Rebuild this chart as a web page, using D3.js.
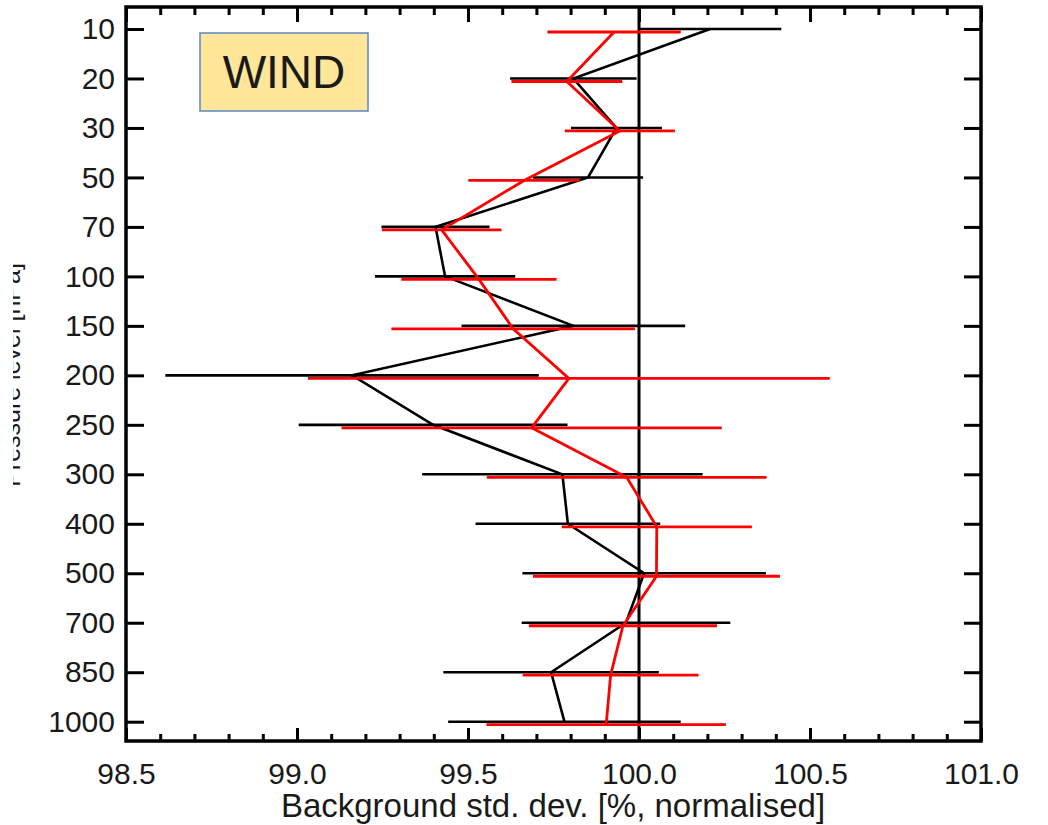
<!DOCTYPE html>
<html>
<head>
<meta charset="utf-8">
<script src="https://cdn.jsdelivr.net/npm/d3@7"></script>
<style>
  html, body { margin: 0; padding: 0; background: #ffffff; }
  svg { display: block; }
  text { font-family: "Liberation Sans", Arial, Helvetica, sans-serif; fill: #1a1a1a; }
</style>
</head>
<body>
<svg id="chart" width="1048" height="825"></svg>
<script>
// ---- data ----
const levels = [10, 20, 30, 50, 70, 100, 150, 200, 250, 300, 400, 500, 700, 850, 1000];
const levelLabels = ["10", "20", "30", "50", "70", "100", "150", "200", "250", "300", "400", "500", "700", "850", "1000"];
const blackMean = [100.208, 99.808, 99.934, 99.851, 99.405, 99.433, 99.808, 99.161, 99.398, 99.776, 99.792, 100.015, 99.962, 99.743, 99.782];
const blackErr  = [0.208, 0.185, 0.133, 0.161, 0.158, 0.205, 0.327, 0.546, 0.393, 0.410, 0.270, 0.356, 0.305, 0.315, 0.340];
const redMean   = [99.927, 99.789, 99.944, 99.664, 99.423, 99.532, 99.632, 99.795, 99.686, 99.964, 100.052, 100.051, 99.953, 99.917, 99.904];
const redErr    = [0.195, 0.162, 0.161, 0.163, 0.175, 0.227, 0.356, 0.763, 0.556, 0.409, 0.278, 0.361, 0.275, 0.257, 0.350];
const xMajorTicks = [98.5, 99.0, 99.5, 100.0, 100.5, 101.0];
const xMinorTicks = [98.6, 98.7, 98.8, 98.9, 99.1, 99.2, 99.3, 99.4, 99.6, 99.7, 99.8, 99.9,
                     100.1, 100.2, 100.3, 100.4, 100.6, 100.7, 100.8, 100.9];
const xDomain = [98.5, 101.0];
const refValue = 100.0;
const xTitle = "Background std. dev. [%, normalised]";
const yTitle = "Pressure level [hPa]";
const boxLabel = "WIND";

// ---- layout ----
const L = 126, R = 981, T = 7, B = 741;
const svg = d3.select("#chart");
svg.append("rect").attr("width", 1048).attr("height", 825).attr("fill", "#fff");

const x = d3.scaleLinear().domain(xDomain).range([L, R]);
const y = d3.scalePoint().domain(levels).range([29, 721.7]);

// reference vertical line
svg.append("line")
  .attr("x1", x(refValue)).attr("x2", x(refValue))
  .attr("y1", T).attr("y2", B)
  .attr("stroke", "#000").attr("stroke-width", 3);

// axes
function styleAxis(g, width) {
  g.select(".domain").remove();
  g.selectAll(".tick line").attr("stroke", "#000").attr("stroke-width", width);
}
svg.append("g").attr("transform", `translate(${L},0)`)
  .call(d3.axisLeft(y).tickSizeInner(-18).tickSizeOuter(0).tickPadding(11)
        .tickFormat((d, i) => levelLabels[i]))
  .call(g => { styleAxis(g, 3); g.selectAll("text").attr("font-size", 30).attr("fill", "#1a1a1a"); });
svg.append("g").attr("transform", `translate(${R},0)`)
  .call(d3.axisRight(y).tickSizeInner(-17).tickSizeOuter(0).tickFormat(""))
  .call(g => styleAxis(g, 3));
svg.append("g").attr("transform", `translate(0,${B})`)
  .call(d3.axisBottom(x).tickValues(xMinorTicks).tickSizeInner(-7).tickSizeOuter(0).tickFormat(""))
  .call(g => styleAxis(g, 3));
svg.append("g").attr("transform", `translate(0,${B})`)
  .call(d3.axisBottom(x).tickValues(xMajorTicks).tickSizeInner(-13).tickSizeOuter(0).tickPadding(22)
        .tickFormat(d3.format(".1f")))
  .call(g => { styleAxis(g, 3); g.selectAll("text").attr("font-size", 30).attr("fill", "#1a1a1a"); });
svg.append("g").attr("transform", `translate(0,${T})`)
  .call(d3.axisTop(x).tickValues(xMinorTicks).tickSizeInner(-8).tickSizeOuter(0).tickFormat(""))
  .call(g => styleAxis(g, 3));
svg.append("g").attr("transform", `translate(0,${T})`)
  .call(d3.axisTop(x).tickValues(xMajorTicks).tickSizeInner(-15).tickSizeOuter(0).tickFormat(""))
  .call(g => styleAxis(g, 3));

// frame
svg.append("rect")
  .attr("x", L).attr("y", T).attr("width", R - L).attr("height", B - T)
  .attr("fill", "none").attr("stroke", "#000").attr("stroke-width", 3.5);

// series
function drawSeries(means, errs, color, dy, lw) {
  const g = svg.append("g");
  const pts = levels.map((lv, i) => ({ lv, m: means[i], e: errs[i] }));
  g.selectAll("line.err").data(pts).join("line")
    .attr("class", "err")
    .attr("x1", d => x(d.m - d.e)).attr("x2", d => x(d.m + d.e))
    .attr("y1", d => y(d.lv) + dy).attr("y2", d => y(d.lv) + dy)
    .attr("stroke", color).attr("stroke-width", lw);
  g.append("path").datum(pts)
    .attr("fill", "none").attr("stroke", color).attr("stroke-width", lw)
    .attr("stroke-linejoin", "miter")
    .attr("d", d3.line().x(d => x(d.m)).y(d => y(d.lv) + dy));
}
drawSeries(blackMean, blackErr, "#000000", 0, 2.6);
drawSeries(redMean, redErr, "#ff0000", 3, 2.8);

// WIND box
svg.append("rect")
  .attr("x", 200).attr("y", 33).attr("width", 168).attr("height", 78)
  .attr("fill", "#ffe699").attr("stroke", "#5a87c6").attr("stroke-width", 1.5);
svg.append("text")
  .attr("x", 284).attr("y", 88).attr("text-anchor", "middle")
  .attr("font-size", 46).attr("fill", "#000").text(boxLabel);

// axis titles
svg.append("text")
  .attr("x", 553).attr("y", 817).attr("text-anchor", "middle")
  .attr("font-size", 33).text(xTitle);

// y title: in the reference only the lower sliver of it is visible at the left edge
svg.append("clipPath").attr("id", "ytclip")
  .append("rect").attr("x", 13).attr("y", 0).attr("width", 40).attr("height", 825);
svg.append("g").attr("clip-path", "url(#ytclip)")
  .append("text")
  .attr("transform", "translate(20,375) rotate(-90)")
  .attr("text-anchor", "middle")
  .attr("font-size", 25).text(yTitle);
</script>
</body>
</html>
